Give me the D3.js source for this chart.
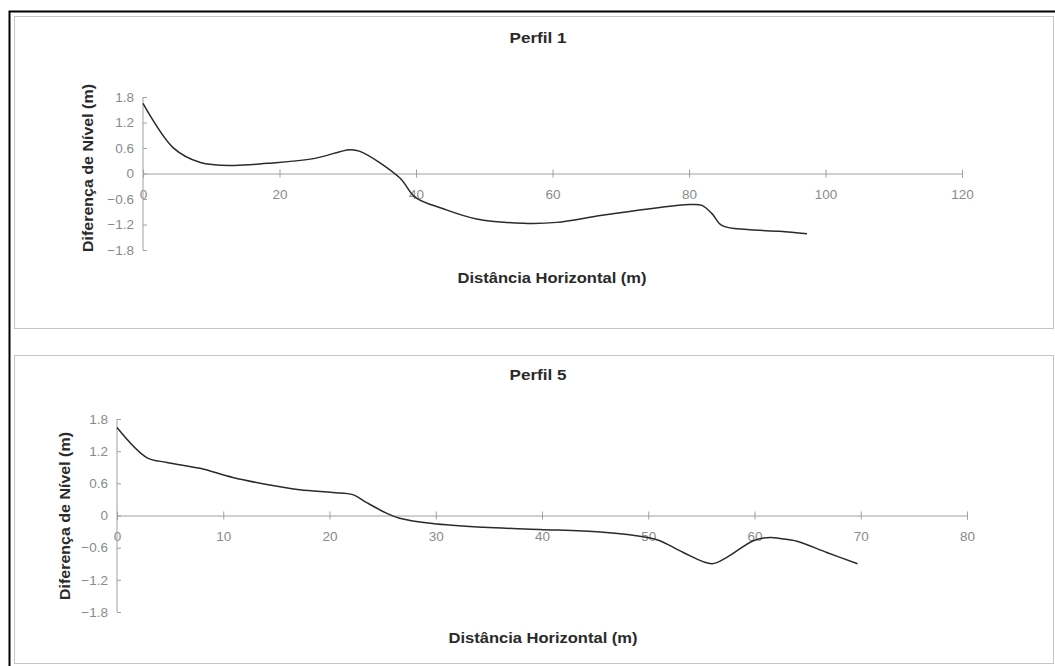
<html>
<head>
  <meta charset="utf-8">
  <script src="https://cdn.jsdelivr.net/npm/d3@7"></script>
  <style>
    body { margin: 0; background: white; }
    text { font-family: "Liberation Sans", Arial, sans-serif; }
    .tick text { fill: #8a8a8a; font-size: 13.5px; }
    .domain, .tick line { stroke: #a0a0a0; }
    .ttl { font-weight: bold; font-size: 14px; fill: #2a2a2a; }
  </style>
</head>
<body>
  <div id="chart"></div>
  <script>
    // Perfil 1
    var p1X = [0, 4.4, 8.4, 13.2, 18.2, 25, 30.3, 31.8, 37.6, 39.9, 44, 48.9, 55.7, 60.6, 67, 74.3, 80.1, 81.9, 83.4, 84.8, 88.5, 93.3, 97.3];
    var p1Y = [1.65, 0.61, 0.26, 0.19, 0.24, 0.35, 0.56, 0.52, -0.1, -0.56, -0.83, -1.07, -1.17, -1.15, -0.99, -0.83, -0.73, -0.75, -0.95, -1.22, -1.32, -1.36, -1.42];
    // Perfil 5
    var p5X = [0, 2.8, 4.7, 7.8, 10.9, 14.1, 17.2, 20.3, 22.2, 23.5, 25.4, 26.6, 29.7, 34.5, 39.8, 45.5, 49.9, 51.1, 53.3, 56, 57.4, 59.9, 61.5, 62.4, 64, 66.8, 69.7];
    var p5Y = [1.64, 1.08, 0.99, 0.88, 0.71, 0.58, 0.48, 0.43, 0.39, 0.24, 0.04, -0.05, -0.15, -0.22, -0.26, -0.31, -0.41, -0.47, -0.69, -0.9, -0.78, -0.47, -0.41, -0.43, -0.48, -0.69, -0.9];

    var yTicks = [-1.8, -1.2, -0.6, 0, 0.6, 1.2, 1.8];
    var p1XTicks = [0, 20, 40, 60, 80, 100, 120];
    var p5XTicks = [0, 10, 20, 30, 40, 50, 60, 70, 80];

    var W = 1055, H = 666;
    var svg = d3.select("#chart").append("svg").attr("width", W).attr("height", H);

    // outer frame
    svg.append("rect").attr("x", 9.5).attr("y", 11.5).attr("width", W + 10).attr("height", H + 10)
      .attr("fill", "none").attr("stroke", "black").attr("stroke-width", 2);

    function panel(opt) {
      svg.append("rect").attr("x", opt.box[0] + 0.5).attr("y", opt.box[1] + 0.5)
        .attr("width", opt.box[2]).attr("height", opt.box[3])
        .attr("fill", "white").attr("stroke", "#c4c4c4");

      var x = d3.scaleLinear().domain(opt.xDomain).range(opt.xRange);
      var y = d3.scaleLinear().domain([-1.8, 1.8]).range(opt.yRange);

      var ga = svg.append("g").attr("transform", "translate(0," + y(0) + ")")
        .call(d3.axisBottom(x).tickValues(opt.xTicks).tickSize(4).tickPadding(12).tickFormat(d3.format("d")));
      ga.selectAll(".tick line").attr("y1", -4);

      var gy = svg.append("g").attr("transform", "translate(" + x(0) + ",0)")
        .call(d3.axisLeft(y).tickValues(yTicks).tickSize(4).tickPadding(5).tickFormat(function (d) { return d === 0 ? "0" : d3.format(".1f")(d); }));
      gy.selectAll(".tick line").attr("x2", 4);
      gy.select(".domain").remove();
      gy.append("line").attr("y1", y(-1.8)).attr("y2", y(1.8)).attr("stroke", "#a0a0a0");

      var line = d3.line().x(function (d) { return x(d[0]); }).y(function (d) { return y(d[1]); })
        .curve(d3.curveCatmullRom);
      svg.append("path").datum(d3.zip(opt.xs, opt.ys)).attr("d", line)
        .attr("fill", "none").attr("stroke", "#2a2a2a").attr("stroke-width", 1.5);

      svg.append("text").attr("class", "ttl").attr("x", opt.title[1]).attr("y", opt.title[2])
        .attr("text-anchor", "middle").attr("textLength", 57).attr("lengthAdjust", "spacingAndGlyphs")
        .text(opt.title[0]);
      svg.append("text").attr("class", "ttl").attr("x", opt.xTitle[0]).attr("y", opt.xTitle[1])
        .attr("text-anchor", "middle").attr("textLength", 189).attr("lengthAdjust", "spacingAndGlyphs")
        .text("Distância Horizontal (m)");
      svg.append("text").attr("class", "ttl")
        .attr("transform", "translate(" + opt.yTitle[0] + "," + opt.yTitle[1] + ") rotate(-90)")
        .attr("text-anchor", "middle").attr("textLength", 168).attr("lengthAdjust", "spacingAndGlyphs")
        .text("Diferença de Nível (m)");
    }

    panel({
      box: [14, 16, 1039, 312],
      xDomain: [0, 120], xRange: [143, 962], yRange: [250, 97],
      xTicks: p1XTicks, xs: p1X, ys: p1Y,
      title: ["Perfil 1", 538, 43], xTitle: [552, 283], yTitle: [93, 168]
    });
    panel({
      box: [14, 355, 1039, 308],
      xDomain: [0, 80], xRange: [117, 967], yRange: [612, 419],
      xTicks: p5XTicks, xs: p5X, ys: p5Y,
      title: ["Perfil 5", 538, 380], xTitle: [543, 643], yTitle: [70, 516]
    });
  </script>
</body>
</html>
